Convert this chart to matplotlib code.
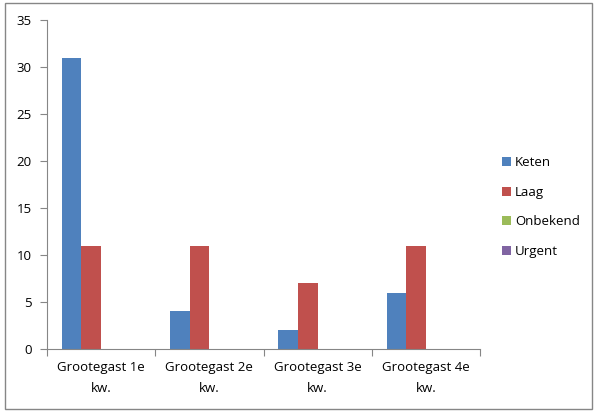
import numpy as np
import matplotlib.pyplot as plt
from matplotlib.patches import Rectangle

# data
categories = ["Grootegast 1e\nkw.", "Grootegast 2e\nkw.", "Grootegast 3e\nkw.", "Grootegast 4e\nkw."]
series_names = ["Keten", "Laag", "Onbekend", "Urgent"]
keten = [31, 4, 2, 6]
laag = [11, 11, 7, 11]
onbekend = [0, 0, 0, 0]
urgent = [0, 0, 0, 0]
colors = ["#4F81BD", "#C0504D", "#9BBB59", "#8064A2"]

plt.rcParams["font.family"] = ["Open Sans", "DejaVu Sans"]

fig = plt.figure(figsize=(5.95, 4.12), dpi=100)
ax = fig.add_axes([47 / 595, 1 - 349 / 412, 433 / 595, 329 / 412])

# excel style: gap width 150% -> bar width = 1 / (n_series + 1.5)
n = len(series_names)
bw = 1 / (n + 1.5)
x = np.arange(len(categories))
for i, (name, vals) in enumerate(zip(series_names, [keten, laag, onbekend, urgent])):
    ax.bar(x - n * bw / 2 + (i + 0.5) * bw, vals, bw, color=colors[i], label=name)

ax.set_xlim(-0.5, len(categories) - 0.5)
ax.set_ylim(0, 35)
ax.set_yticks(range(0, 36, 5))
ax.set_xticks(np.arange(len(categories) + 1) - 0.5)
ax.set_xticklabels([])
ax.set_xticks(x, minor=True)
ax.set_xticklabels(categories, minor=True, fontsize=9.5, linespacing=1.8)
ax.tick_params(axis="x", which="minor", length=0, pad=9)
ax.tick_params(axis="x", which="major", length=5, color="#868686")
ax.tick_params(axis="y", length=5, color="#868686", labelsize=9.5, pad=6)

for s in ["top", "right"]:
    ax.spines[s].set_visible(False)
for s in ["left", "bottom"]:
    ax.spines[s].set_color("#868686")

ax.legend(loc="center left", bbox_to_anchor=(495 / 595, 205 / 412), bbox_transform=fig.transFigure,
          frameon=False, fontsize=9.5, handlelength=0.7, handleheight=0.7, handletextpad=0.3,
          labelspacing=1.25, borderpad=0)

fig.patches.append(Rectangle((5 / 595, 3 / 412), 587 / 595, 406 / 412, transform=fig.transFigure,
                             fill=False, edgecolor="#868686", linewidth=1))

fig.savefig("out.png", dpi=100)
